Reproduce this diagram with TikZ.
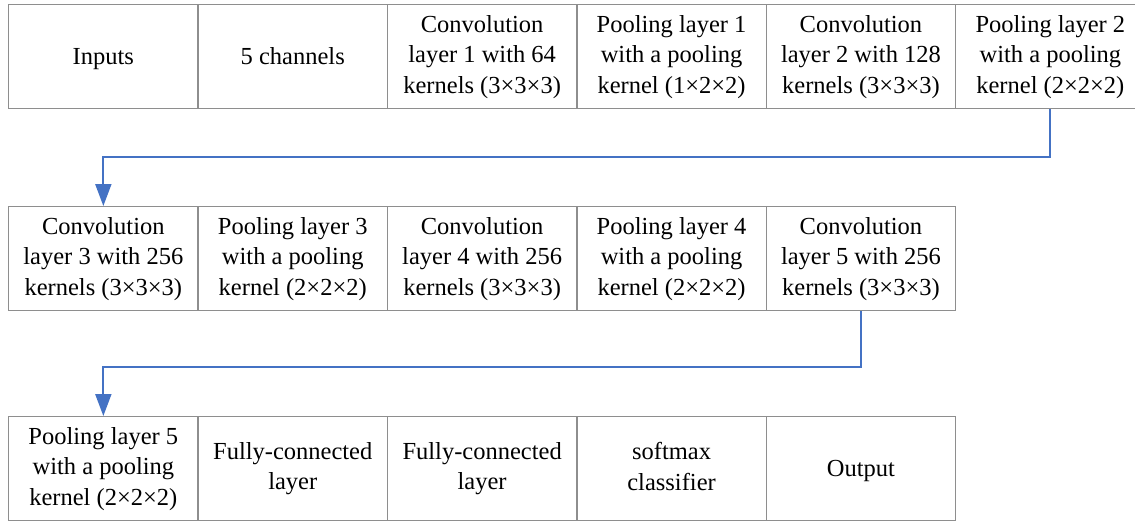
\documentclass[tikz,border=0pt]{standalone}
\usepackage{fontspec}
\setmainfont{Liberation Serif}
\usetikzlibrary{arrows.meta}
\definecolor{boxline}{HTML}{8E8E8E}
\definecolor{flowblue}{HTML}{4472C4}
% struts that balance the first and last line of every box
\newcommand\topstrut{\rule{0pt}{26.2pt}}
\newcommand\botstrut{\rule[-4.3pt]{0pt}{4.3pt}}
\newcommand\deepstrut{\rule[-10.3pt]{0pt}{10.3pt}}
\tikzset{
  layer/.style={draw=boxline, line width=1.3pt, rectangle, anchor=north west,
    minimum width=189.4pt, minimum height=104pt, inner sep=0pt,
    align=center, font=\fontsize{24.5}{30.5}\selectfont, text=black,
    execute at begin node=\topstrut, execute at end node=\botstrut},
  oneline/.style={execute at end node=\deepstrut},
  flow/.style={draw=flowblue, line width=2pt,
    -{Triangle[length=22pt,width=16pt]}}
}
\begin{document}
\begin{tikzpicture}[x=1pt,y=-1pt]
\useasboundingbox (0,0) rectangle (1135,523);
% first row
\node[layer,oneline] (in) at (8,4)  {Inputs};
\node[layer,oneline] (ch) at (197.4,4) {5 channels};
\node[layer] (c1)  at (386.8,4) {Convolution\\layer 1 with 64\\kernels (3×3×3)};
\node[layer] (p1)  at (576.2,4) {Pooling layer 1\\with a pooling\\kernel (1×2×2)};
\node[layer] (c2)  at (765.6,4) {Convolution\\layer 2 with 128\\kernels (3×3×3)};
\node[layer] (p2)  at (955,4)   {Pooling layer 2\\with a pooling\\kernel (2×2×2)};
% second row
\node[layer] (c3)  at (8,206)     {Convolution\\layer 3 with 256\\kernels (3×3×3)};
\node[layer] (p3)  at (197.4,206) {Pooling layer 3\\with a pooling\\kernel (2×2×2)};
\node[layer] (c4)  at (386.8,206) {Convolution\\layer 4 with 256\\kernels (3×3×3)};
\node[layer] (p4)  at (576.2,206) {Pooling layer 4\\with a pooling\\kernel (2×2×2)};
\node[layer] (c5)  at (765.6,206) {Convolution\\layer 5 with 256\\kernels (3×3×3)};
% third row
\node[layer] (p5)  at (8,416)     {Pooling layer 5\\with a pooling\\kernel (2×2×2)};
\node[layer] (fc1) at (197.4,416) {Fully-connected\\layer};
\node[layer] (fc2) at (386.8,416) {Fully-connected\\layer};
\node[layer] (sm)  at (576.2,416) {softmax\\classifier};
\node[layer,oneline] (out) at (765.6,416) {Output};
% row-to-row connectors
\coordinate (r1) at (0,157);
\coordinate (r2) at (0,367);
\draw[flow] (p2.south) -- (p2.south |- r1) -| (c3.north);
\draw[flow] (c5.south) -- (c5.south |- r2) -| (p5.north);
\end{tikzpicture}
\end{document}
